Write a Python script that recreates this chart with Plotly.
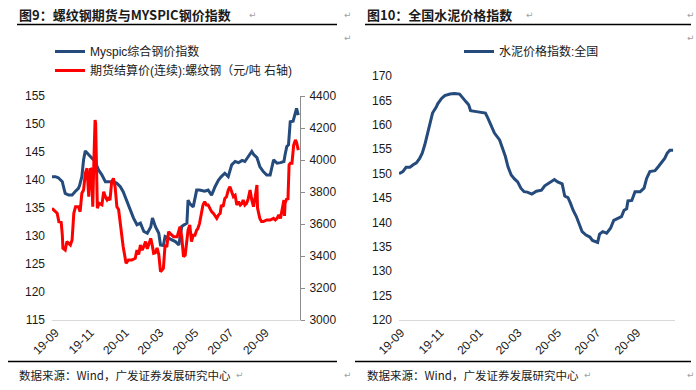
import plotly.graph_objects as go

# ---------------- data ----------------
myspic_dates = ["2019-08-26","2019-09-01","2019-09-06","2019-09-13","2019-09-15","2019-09-18","2019-09-24","2019-09-30",
    "2019-10-05","2019-10-11","2019-10-13","2019-10-17","2019-10-20","2019-10-23","2019-10-29","2019-11-03","2019-11-09",
    "2019-11-15","2019-11-21","2019-11-27","2019-12-02","2019-12-11","2019-12-17","2019-12-23","2019-12-28","2020-01-03",
    "2020-01-09","2020-01-15","2020-01-21","2020-01-27","2020-02-02","2020-02-08","2020-02-14","2020-02-17","2020-02-22",
    "2020-02-28","2020-03-02","2020-03-07","2020-03-10","2020-03-16","2020-03-22","2020-03-28","2020-04-03","2020-04-08",
    "2020-04-11","2020-04-17","2020-04-19","2020-04-22","2020-04-28","2020-05-04","2020-05-09","2020-05-18","2020-05-24",
    "2020-05-30","2020-06-05","2020-06-11","2020-06-16","2020-06-22","2020-06-28","2020-07-04","2020-07-10","2020-07-16",
    "2020-07-22","2020-07-27","2020-08-02","2020-08-08","2020-08-11","2020-08-17","2020-08-22","2020-08-28","2020-09-03",
    "2020-09-09","2020-09-15","2020-09-21","2020-09-27","2020-10-03","2020-10-05","2020-10-08","2020-10-11","2020-10-14",
    "2020-10-19","2020-10-23","2020-10-25","2020-10-28"]
myspic_values = [140.6,140.6,140.4,139.7,138.8,137.6,137.3,137.3,
    137.9,138.5,139.0,140.6,143.6,145.2,144.5,143.9,143.3,
    141.8,140.9,139.7,139.7,139.7,139.4,138.8,137.9,136.4,
    134.6,133.2,132.0,132.3,130.8,130.5,131.6,133.2,131.7,
    130.5,128.4,128.3,129.9,129.6,129.3,129.0,128.4,131.7,
    131.9,132.3,136.4,135.8,135.2,138.2,138.2,138.0,138.2,
    137.3,138.8,140.0,140.6,141.2,140.6,142.7,143.3,143.1,
    143.5,143.3,144.2,145.1,144.6,144.0,142.4,141.5,140.9,
    140.9,143.6,143.0,143.1,143.3,144.5,146.0,146.3,150.4,
    150.5,152.2,152.8,151.6]

rebar_dates = ["2019-08-26","2019-09-04","2019-09-07","2019-09-11","2019-09-13","2019-09-14","2019-09-18","2019-09-21",
    "2019-09-27","2019-09-30","2019-10-03","2019-10-06","2019-10-11","2019-10-14","2019-10-17","2019-10-20","2019-10-23",
    "2019-10-26","2019-10-29","2019-11-01","2019-11-03","2019-11-05","2019-11-07","2019-11-09","2019-11-10","2019-11-13",
    "2019-11-16","2019-11-21","2019-11-24","2019-11-27","2019-11-30","2019-12-02","2019-12-05","2019-12-08","2019-12-11",
    "2019-12-14","2019-12-17","2019-12-20","2019-12-23","2019-12-28","2020-01-02","2020-01-06","2020-01-12","2020-01-18",
    "2020-01-21","2020-01-24","2020-01-27","2020-01-30","2020-02-02","2020-02-05","2020-02-08","2020-02-11","2020-02-14",
    "2020-02-17","2020-02-19","2020-02-22","2020-02-25","2020-02-28","2020-03-02","2020-03-07","2020-03-10","2020-03-13",
    "2020-03-16","2020-03-19","2020-03-25","2020-03-31","2020-04-05","2020-04-08","2020-04-11","2020-04-14","2020-04-17",
    "2020-04-19","2020-04-22","2020-04-25","2020-04-28","2020-05-01","2020-05-04","2020-05-06","2020-05-09","2020-05-12",
    "2020-05-15","2020-05-18","2020-05-21","2020-05-24","2020-05-30","2020-06-02","2020-06-05","2020-06-08","2020-06-11",
    "2020-06-14","2020-06-16","2020-06-19","2020-06-22","2020-06-25","2020-06-28","2020-07-01","2020-07-04","2020-07-07",
    "2020-07-10","2020-07-13","2020-07-16","2020-07-19","2020-07-22","2020-07-24","2020-07-27","2020-07-30","2020-08-02",
    "2020-08-05","2020-08-08","2020-08-11","2020-08-14","2020-08-17","2020-08-18","2020-08-19","2020-08-22","2020-08-25",
    "2020-08-28","2020-09-03","2020-09-09","2020-09-15","2020-09-18","2020-09-21","2020-09-24","2020-09-27","2020-09-30",
    "2020-10-03","2020-10-04","2020-10-05","2020-10-08","2020-10-10","2020-10-12","2020-10-14","2020-10-17","2020-10-20",
    "2020-10-23","2020-10-25","2020-10-28"]
rebar_values = [3698,3667,3614,3610,3531,3448,3437,3490,
    3469,3500,3667,3708,3708,3677,3792,3812,3917,
    3948,3771,3948,3940,3708,4000,4250,4230,3698,
    3730,3720,3802,3770,3750,3760,3750,3865,3885,
    3830,3708,3690,3604,3458,3354,3375,3375,3386,
    3437,3410,3469,3437,3460,3490,3445,3480,3510,
    3460,3417,3420,3450,3410,3302,3323,3469,3455,
    3552,3540,3521,3521,3583,3521,3396,3405,3521,
    3562,3594,3490,3530,3530,3562,3570,3604,3656,
    3719,3740,3719,3719,3677,3667,3646,3635,3656,
    3667,3719,3708,3760,3770,3812,3833,3802,3771,
    3780,3719,3740,3719,3729,3750,3719,3729,3760,
    3812,3750,3708,3770,3844,3700,3687,3635,3615,
    3615,3625,3625,3635,3625,3635,3656,3635,3687,
    3750,3650,3730,3760,3750,3969,3980,3980,4094,
    4125,4110,4062]

cement_dates = ["2019-08-29","2019-09-04","2019-09-09","2019-09-15","2019-09-20","2019-09-25","2019-09-30","2019-10-04",
    "2019-10-08","2019-10-10","2019-10-14","2019-10-17","2019-10-20","2019-10-26","2019-10-28","2019-11-03","2019-11-08",
    "2019-11-16","2019-11-23","2019-12-01","2019-12-06","2019-12-11","2019-12-15","2019-12-18","2019-12-27","2020-01-04",
    "2020-01-10","2020-01-14","2020-01-18","2020-01-24","2020-02-01","2020-02-06","2020-02-10","2020-02-14","2020-02-19",
    "2020-02-24","2020-02-29","2020-03-05","2020-03-10","2020-03-15","2020-03-22","2020-03-29","2020-04-06","2020-04-11",
    "2020-04-16","2020-04-21","2020-04-26","2020-05-01","2020-05-08","2020-05-12","2020-05-17","2020-05-21","2020-05-25",
    "2020-05-30","2020-06-03","2020-06-08","2020-06-14","2020-06-20","2020-06-24","2020-07-02","2020-07-05","2020-07-10",
    "2020-07-16","2020-07-22","2020-07-27","2020-08-03","2020-08-08","2020-08-12","2020-08-16","2020-08-18","2020-08-24",
    "2020-08-29","2020-09-06","2020-09-12","2020-09-16","2020-09-21","2020-09-29","2020-10-04","2020-10-09","2020-10-14",
    "2020-10-18","2020-10-22","2020-10-27"]
cement_values = [150.0,150.4,151.3,151.3,151.8,152.2,153.1,154.2,
    155.9,156.9,158.9,161.0,162.4,163.7,164.3,165.4,166.0,
    166.3,166.4,166.3,165.6,164.7,164.1,162.9,162.7,162.5,
    162.4,161.3,160.0,158.3,156.9,155.2,153.5,151.4,149.7,
    148.9,148.3,147.0,146.3,146.2,145.8,146.4,146.6,147.5,
    147.9,148.3,148.8,148.3,147.9,145.4,145.1,143.9,142.5,
    141.2,139.8,138.1,137.4,137.0,136.3,135.9,137.6,138.1,
    137.8,138.8,140.4,140.8,141.2,142.5,142.8,144.4,144.5,
    146.3,146.3,147.0,149.0,150.4,150.6,151.4,152.2,153.1,
    154.2,154.8,154.8]

left_title = "图9：螺纹钢期货与MYSPIC钢价指数"
right_title = "图10：全国水泥价格指数"
source_text = "数据来源：Wind，广发证券发展研究中心"
name_myspic = "Myspic综合钢价指数"
name_rebar = "期货结算价(连续):螺纹钢（元/吨 右轴)"
name_cement = "水泥价格指数:全国"

# ---------------- figure ----------------
W, H = 696, 390
BLUE = "#254A7C"
RED = "#FF0000"
FONT = "Liberation Sans, Arial, Noto Sans CJK SC, sans-serif"
CJK = "Noto Sans CJK SC, sans-serif"

def px(x):
    return x / W

def py(y):
    return 1 - y / H

fig = go.Figure()
fig.add_trace(go.Scatter(x=myspic_dates, y=myspic_values, name=name_myspic, mode="lines",
                         line=dict(color=BLUE, width=3), xaxis="x", yaxis="y", legend="legend"))
fig.add_trace(go.Scatter(x=rebar_dates, y=rebar_values, name=name_rebar, mode="lines",
                         line=dict(color=RED, width=3), xaxis="x", yaxis="y2", legend="legend"))
fig.add_trace(go.Scatter(x=cement_dates, y=cement_values, name=name_cement, mode="lines",
                         line=dict(color=BLUE, width=3), xaxis="x2", yaxis="y3", legend="legend2"))

tickfont = dict(family=FONT, size=12, color="#1a1a1a")
xcommon = dict(type="date", tickformat="%y-%m", dtick="M2", tick0="2019-09-01", tickangle=-45,
               showgrid=False, zeroline=False, showline=True, linecolor="#d9d9d9", linewidth=1,
               ticks="", tickfont=tickfont, automargin=False)

fig.update_layout(
    width=W, height=H, margin=dict(l=0, r=0, t=0, b=0, autoexpand=False),
    paper_bgcolor="white", plot_bgcolor="white",
    font=dict(family=FONT, size=12, color="#1a1a1a"),
    xaxis=dict(domain=[px(52), px(300)], range=["2019-08-26", "2020-10-31"], anchor="y", **xcommon),
    yaxis=dict(domain=[py(320), py(96)], range=[115, 155], dtick=5, showgrid=False, zeroline=False,
               showline=False, ticks="", tickfont=tickfont, ticklabelstandoff=6, automargin=False),
    yaxis2=dict(overlaying="y", side="right", anchor="x", range=[3000, 4400], dtick=200, showgrid=False,
                zeroline=False, showline=True, linecolor="#8c8c8c", linewidth=1, ticks="outside",
                ticklen=4, tickcolor="#8c8c8c", tickfont=tickfont, ticklabelstandoff=2, automargin=False),
    xaxis2=dict(domain=[px(399), px(675)], range=["2019-08-29", "2020-10-30"], anchor="y3", **xcommon),
    yaxis3=dict(domain=[py(320), py(76)], anchor="x2", range=[120, 170], dtick=5, showgrid=False,
                zeroline=False, showline=False, ticks="", tickfont=tickfont, ticklabelstandoff=6,
                automargin=False),
    legend=dict(x=px(50), y=py(37), xanchor="left", yanchor="top", bgcolor="rgba(0,0,0,0)",
                font=dict(family=FONT, size=12, color="#1a1a1a"), tracegroupgap=0, itemwidth=30),
    legend2=dict(x=px(459), y=py(37), xanchor="left", yanchor="top", bgcolor="rgba(0,0,0,0)",
                 font=dict(family=FONT, size=12, color="#1a1a1a"), itemwidth=30),
    showlegend=True,
)

# titles, rules, sources
anns = []
anns.append(dict(text="<b>" + left_title + "</b>", x=px(17), y=py(15), xref="paper", yref="paper",
                 xanchor="left", yanchor="middle", showarrow=False,
                 font=dict(family=CJK, size=13, color="#1a1a1a")))
anns.append(dict(text="<b>" + right_title + "</b>", x=px(365), y=py(15), xref="paper", yref="paper",
                 xanchor="left", yanchor="middle", showarrow=False,
                 font=dict(family=CJK, size=13, color="#1a1a1a")))
for sx in (17, 365):
    anns.append(dict(text=source_text, x=px(sx), y=py(375), xref="paper", yref="paper",
                     xanchor="left", yanchor="middle", showarrow=False,
                     font=dict(family=CJK, size=11.5, color="#1a1a1a")))
# paragraph marks
for mx, my in [(247, 15), (342, 15), (342, 38), (524, 15), (685, 15), (685, 38),
               (234, 375), (342, 375), (582, 375), (685, 375)]:
    anns.append(dict(text="↵", x=px(mx), y=py(my), xref="paper", yref="paper",
                     xanchor="left", yanchor="middle", showarrow=False,
                     font=dict(family="DejaVu Sans", size=9, color="#a0a0a0")))
fig.update_layout(annotations=anns)

shapes = []
for x0, x1, y in [(17, 337, 24.5), (365, 691, 24.5), (8, 337, 361.5), (355, 691, 361.5)]:
    shapes.append(dict(type="line", xref="paper", yref="paper", x0=px(x0), x1=px(x1), y0=py(y), y1=py(y),
                       line=dict(color="#000000", width=1.3)))
fig.update_layout(shapes=shapes)

fig.write_html("out.html", config={"displayModeBar": False},
               post_script="document.body.style.margin='0px';document.body.style.padding='0px';")
